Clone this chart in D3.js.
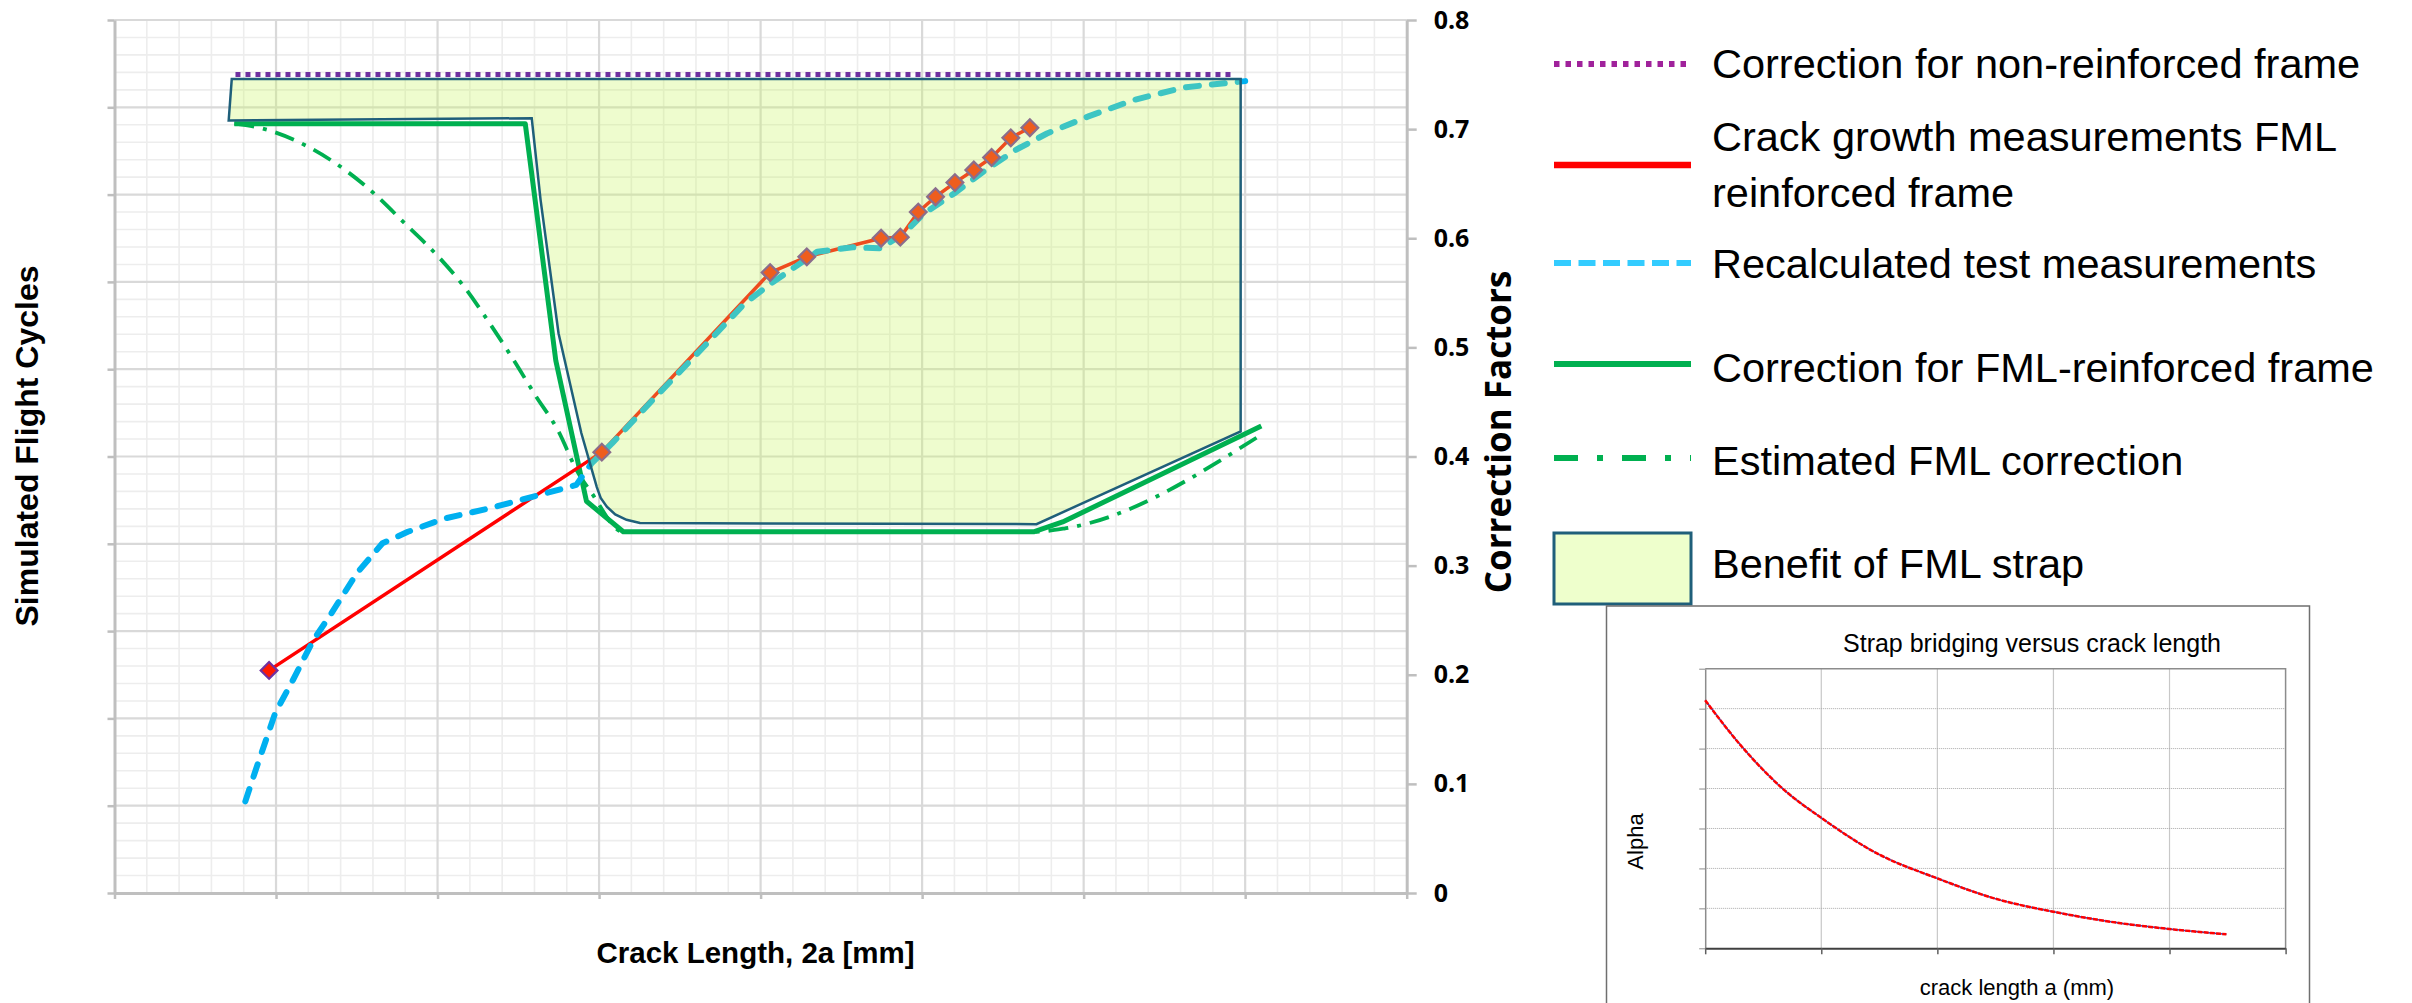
<!DOCTYPE html>
<html>
<head>
<meta charset="utf-8">
<script src="https://cdn.jsdelivr.net/npm/d3@7"></script>
<style>
  html, body { margin: 0; padding: 0; background: #fff; }
  svg { display: block; }
</style>
</head>
<body>
<div id="chart"></div>
<script>
const WIDTH = 2412;
const HEIGHT = 1003;

// main plot frame (px)
const PLOT = { left: 114.5, right: 1406.7, top: 20, bottom: 893 };
// inset chart frame (px)
const INSET = { boxX: 1606.5, boxY: 606, boxW: 703, boxH: 420, left: 1705.2, right: 2285.6, top: 668.7, bottom: 948.3 };

const ARIAL = '"Liberation Sans", Arial, sans-serif';
const OPEN = '"Open Sans", "Liberation Sans", sans-serif';

// ---- data -------------------------------------------------------------
// crack length in grid units (8 major divisions), values are correction factors
const rightTicks = [0, 0.1, 0.2, 0.3, 0.4, 0.5, 0.6, 0.7, 0.8];

const nonReinforced = [[0.749, 0.75], [6.94, 0.75]];

const crackGrowth = [
  [0.957, 0.204], [3.017, 0.404], [4.059, 0.5685], [4.286, 0.583], [4.746, 0.600],
  [4.865, 0.601], [4.976, 0.624], [5.083, 0.638], [5.203, 0.651], [5.32, 0.6625],
  [5.43, 0.674], [5.549, 0.692], [5.667, 0.7013]
];

const recalculated = [
  [0.81, 0.084], [0.868, 0.11], [0.995, 0.165], [1.104, 0.195], [1.232, 0.232],
  [1.342, 0.256], [1.5, 0.293], [1.659, 0.3205], [1.816, 0.331], [2.04, 0.343],
  [2.32, 0.3525], [2.638, 0.365], [2.859, 0.374], [2.955, 0.394], [3.08, 0.412],
  [3.333, 0.452], [3.648, 0.5006], [3.902, 0.5404], [4.066, 0.5587], [4.35, 0.5877],
  [4.571, 0.5917], [4.744, 0.5908], [4.887, 0.6045], [5.013, 0.6229], [5.2, 0.6412],
  [5.393, 0.6625], [5.58, 0.681], [5.773, 0.696], [6.025, 0.7114], [6.31, 0.7267],
  [6.625, 0.7383], [7.0, 0.744]
];

const fmlCorrection = [
  [0.742, 0.705], [2.543, 0.705], [2.732, 0.488], [2.922, 0.359], [3.15, 0.331],
  [5.69, 0.331], [5.87, 0.340], [7.10, 0.428]
];

const estimatedFml = [
  [0.742, 0.705], [0.93, 0.70], [1.184, 0.685], [1.561, 0.647], [1.815, 0.611],
  [2.006, 0.583], [2.162, 0.556], [2.323, 0.522], [2.464, 0.49], [2.606, 0.456],
  [2.749, 0.423], [2.859, 0.388], [2.954, 0.3665], [3.15, 0.331], [5.69, 0.331],
  [5.88, 0.334], [7.097, 0.4197]
];

const benefitArea = [
  [0.726, 0.746], [6.972, 0.746], [6.972, 0.423], [5.708, 0.338], [3.253, 0.339],
  [3.17, 0.342], [3.1, 0.347], [3.048, 0.354], [3.01, 0.362], [2.986, 0.372],
  [2.890, 0.4215], [2.749, 0.513], [2.638, 0.635], [2.583, 0.710], [0.707, 0.708]
];

// inset: alpha vs crack length (5 x divisions, 7 y divisions)
const strapAlpha = [
  [0, 6.21], [0.293, 5.125], [0.682, 3.96], [1.0, 3.266], [1.48, 2.375], [2.0, 1.75],
  [2.49, 1.25], [3.0, 0.915], [3.49, 0.665], [4.0, 0.4825], [4.49, 0.35]
];

const legendLabels = [
  ['Correction for non-reinforced frame'],
  ['Crack growth measurements FML', 'reinforced frame'],
  ['Recalculated test measurements'],
  ['Correction for FML-reinforced frame'],
  ['Estimated FML correction'],
  ['Benefit of FML strap']
];

// ---- setup ------------------------------------------------------------
const svg = d3.select('#chart').append('svg')
  .attr('width', WIDTH)
  .attr('height', HEIGHT);

const x = d3.scaleLinear().domain([0, 8]).range([PLOT.left, PLOT.right]);
const yLeft = d3.scaleLinear().domain([0, 10]).range([PLOT.bottom, PLOT.top]);
const yRight = d3.scaleLinear().domain([0, 0.8]).range([PLOT.bottom, PLOT.top]);

const line = d3.line().x(d => x(d[0])).y(d => yRight(d[1]));

// ---- grid -------------------------------------------------------------
function drawGrid() {
  const g = svg.append('g').attr('class', 'grid');
  const minorY = d3.range(0, 10.001, 0.2).filter(v => Math.abs(v - Math.round(v)) > 0.01);
  const minorX = d3.range(0, 8.001, 0.2).filter(v => Math.abs(v - Math.round(v)) > 0.01);
  g.selectAll('line.minor-y').data(minorY).enter().append('line')
    .attr('x1', PLOT.left).attr('x2', PLOT.right)
    .attr('y1', d => yLeft(d)).attr('y2', d => yLeft(d))
    .attr('stroke', '#ededed').attr('stroke-width', 1.6);
  g.selectAll('line.minor-x').data(minorX).enter().append('line')
    .attr('y1', PLOT.top).attr('y2', PLOT.bottom)
    .attr('x1', d => x(d)).attr('x2', d => x(d))
    .attr('stroke', '#ededed').attr('stroke-width', 1.6);
  g.selectAll('line.major-y').data(d3.range(1, 11)).enter().append('line')
    .attr('x1', PLOT.left).attr('x2', PLOT.right)
    .attr('y1', d => yLeft(d)).attr('y2', d => yLeft(d))
    .attr('stroke', '#d9d9d9').attr('stroke-width', 2.2);
  g.selectAll('line.major-x').data(d3.range(1, 8)).enter().append('line')
    .attr('y1', PLOT.top).attr('y2', PLOT.bottom)
    .attr('x1', d => x(d)).attr('x2', d => x(d))
    .attr('stroke', '#d9d9d9').attr('stroke-width', 2.2);
}

function drawAxes() {
  const axisColor = '#bfbfbf';
  const left = svg.append('g').attr('transform', `translate(${PLOT.left},0)`)
    .call(d3.axisLeft(yLeft).tickValues(d3.range(0, 11)).tickSize(7).tickSizeOuter(0).tickFormat(''));
  const bottom = svg.append('g').attr('transform', `translate(0,${PLOT.bottom})`)
    .call(d3.axisBottom(x).tickValues(d3.range(0, 9)).tickSize(6).tickSizeOuter(0).tickFormat(''));
  const right = svg.append('g').attr('transform', `translate(${PLOT.right},0)`)
    .call(d3.axisRight(yRight).tickValues(rightTicks).tickSize(10).tickSizeOuter(0).tickPadding(17)
      .tickFormat(d => d === 0 ? '0' : d3.format('.1f')(d)));
  [left, bottom, right].forEach(a => {
    a.select('.domain').attr('stroke', axisColor).attr('stroke-width', 3);
    a.selectAll('.tick line').attr('stroke', axisColor).attr('stroke-width', 2.5);
  });
  right.selectAll('.tick text')
    .attr('font-family', OPEN).attr('font-weight', 'bold').attr('font-size', 25).attr('fill', '#000');

  svg.append('text')
    .attr('transform', 'translate(38,446) rotate(-90)')
    .attr('text-anchor', 'middle')
    .attr('font-family', ARIAL).attr('font-weight', 'bold').attr('font-size', 32)
    .text('Simulated Flight Cycles');
  svg.append('text')
    .attr('x', 755.5).attr('y', 963)
    .attr('text-anchor', 'middle')
    .attr('font-family', ARIAL).attr('font-weight', 'bold').attr('font-size', 29.5)
    .text('Crack Length, 2a [mm]');
  svg.append('text')
    .attr('transform', 'translate(1511,432) rotate(-90)')
    .attr('text-anchor', 'middle')
    .attr('font-family', OPEN).attr('font-weight', 'bold').attr('font-size', 35)
    .text('Correction Factors');
}

// ---- series -----------------------------------------------------------
function drawSeries() {
  const g = svg.append('g').attr('class', 'series').attr('fill', 'none');

  g.append('path').datum(estimatedFml)
    .attr('d', line.curve(d3.curveMonotoneX))
    .attr('stroke', '#00b050').attr('stroke-width', 3.8)
    .attr('stroke-dasharray', '20,9,4,9');
  line.curve(d3.curveLinear);

  g.append('path').datum(fmlCorrection)
    .attr('d', line)
    .attr('stroke', '#00b050').attr('stroke-width', 5).attr('stroke-linejoin', 'round');

  g.append('path').datum(nonReinforced)
    .attr('d', line)
    .attr('stroke', '#7030a0').attr('stroke-width', 5)
    .attr('stroke-dasharray', '5,5');

  g.append('path').datum(crackGrowth)
    .attr('d', line)
    .attr('stroke', '#ff0000').attr('stroke-width', 3.5).attr('stroke-linejoin', 'round');

  g.append('path').datum(recalculated)
    .attr('d', line)
    .attr('stroke', '#00b0f0').attr('stroke-width', 6)
    .attr('stroke-linecap', 'round').attr('stroke-linejoin', 'round')
    .attr('stroke-dasharray', '13,13');

  g.selectAll('path.marker').data(crackGrowth).enter().append('path')
    .attr('class', 'marker')
    .attr('d', d3.symbol(d3.symbolSquare, 140))
    .attr('transform', d => `translate(${x(d[0])},${yRight(d[1])}) rotate(45)`)
    .attr('fill', '#ff1a00').attr('stroke', '#7030a0').attr('stroke-width', 2.2);

  // benefit area sits on top, translucent
  g.append('path').datum(benefitArea)
    .attr('d', d => line(d) + 'Z')
    .attr('fill', 'rgb(200,245,96)').attr('fill-opacity', 0.31)
    .attr('stroke', '#1f5f7a').attr('stroke-width', 2.5).attr('stroke-linejoin', 'miter');
}

// ---- legend -----------------------------------------------------------
function drawLegend() {
  const g = svg.append('g').attr('class', 'legend');
  const x0 = 1554, x1 = 1691, tx = 1712;
  const sampleY = [64, 165, 263, 364, 458];
  const styles = [
    { color: '#a0229b', dash: '5.5,6', width: 6 },
    { color: '#ff0000', dash: null, width: 6.5 },
    { color: '#33ccff', dash: '17,7.5', width: 6 },
    { color: '#00b050', dash: null, width: 6 },
    { color: '#00b050', dash: '24,19,6,19', width: 6 }
  ];
  styles.forEach((s, i) => {
    g.append('line')
      .attr('x1', x0).attr('x2', x1).attr('y1', sampleY[i]).attr('y2', sampleY[i])
      .attr('stroke', s.color).attr('stroke-width', s.width)
      .attr('stroke-dasharray', s.dash);
  });
  g.append('rect')
    .attr('x', x0).attr('y', 533).attr('width', x1 - x0).attr('height', 71)
    .attr('fill', '#eeffcc').attr('stroke', '#1f5f7a').attr('stroke-width', 3);

  const baselines = [[77.5], [151, 207], [278], [381.8], [475], [578]];
  legendLabels.forEach((lines, i) => {
    lines.forEach((t, j) => {
      g.append('text')
        .attr('x', tx).attr('y', baselines[i][j])
        .attr('font-family', ARIAL).attr('font-size', 41.5).attr('fill', '#000')
        .text(t);
    });
  });
}

// ---- inset ------------------------------------------------------------
function drawInset() {
  const g = svg.append('g').attr('class', 'inset');
  g.append('rect')
    .attr('x', INSET.boxX).attr('y', INSET.boxY).attr('width', INSET.boxW).attr('height', INSET.boxH)
    .attr('fill', '#fff').attr('stroke', '#6f6f6f').attr('stroke-width', 1.5);

  const ix = d3.scaleLinear().domain([0, 5]).range([INSET.left, INSET.right]);
  const iy = d3.scaleLinear().domain([0, 7]).range([INSET.bottom, INSET.top]);

  g.selectAll('line.vgrid').data(d3.range(1, 5)).enter().append('line')
    .attr('x1', d => ix(d)).attr('x2', d => ix(d)).attr('y1', INSET.top).attr('y2', INSET.bottom)
    .attr('stroke', '#c8c8c8').attr('stroke-width', 1.2);
  g.selectAll('line.hgrid').data(d3.range(1, 7)).enter().append('line')
    .attr('x1', INSET.left).attr('x2', INSET.right).attr('y1', d => iy(d)).attr('y2', d => iy(d))
    .attr('stroke', '#a8a8a8').attr('stroke-width', 1).attr('stroke-dasharray', '1,1');
  // top and right frame
  g.append('path')
    .attr('d', `M${INSET.left},${INSET.top}H${INSET.right}V${INSET.bottom}`)
    .attr('fill', 'none').attr('stroke', '#8c8c8c').attr('stroke-width', 1.5);

  const left = g.append('g').attr('transform', `translate(${INSET.left},0)`)
    .call(d3.axisLeft(iy).tickValues(d3.range(0, 8)).tickSize(6).tickSizeOuter(0).tickFormat(''));
  const bottom = g.append('g').attr('transform', `translate(0,${INSET.bottom})`)
    .call(d3.axisBottom(ix).tickValues(d3.range(0, 6)).tickSize(6).tickSizeOuter(0).tickFormat(''));
  left.select('.domain').attr('stroke', '#8c8c8c').attr('stroke-width', 1.5);
  left.selectAll('.tick line').attr('stroke', '#8c8c8c');
  bottom.select('.domain').attr('stroke', '#404040').attr('stroke-width', 2);
  bottom.selectAll('.tick line').attr('stroke', '#606060').attr('stroke-width', 1.5);

  const iline = d3.line().x(d => ix(d[0])).y(d => iy(d[1])).curve(d3.curveMonotoneX);
  g.append('path').datum(strapAlpha)
    .attr('d', iline).attr('fill', 'none')
    .attr('stroke', '#3344bb').attr('stroke-width', 1.5);
  g.append('path').datum(strapAlpha)
    .attr('d', iline).attr('fill', 'none')
    .attr('stroke', '#ff0000').attr('stroke-width', 2.5).attr('stroke-dasharray', '5,1.2');

  g.append('text')
    .attr('x', 2032).attr('y', 652).attr('text-anchor', 'middle')
    .attr('font-family', ARIAL).attr('font-size', 25).text('Strap bridging versus crack length');
  g.append('text')
    .attr('transform', 'translate(1643,841.5) rotate(-90)').attr('text-anchor', 'middle')
    .attr('font-family', ARIAL).attr('font-size', 22).text('Alpha');
  g.append('text')
    .attr('x', 2017).attr('y', 995).attr('text-anchor', 'middle')
    .attr('font-family', ARIAL).attr('font-size', 22).text('crack length a (mm)');
}

drawGrid();
drawSeries();
drawAxes();
drawLegend();
drawInset();
</script>
</body>
</html>
